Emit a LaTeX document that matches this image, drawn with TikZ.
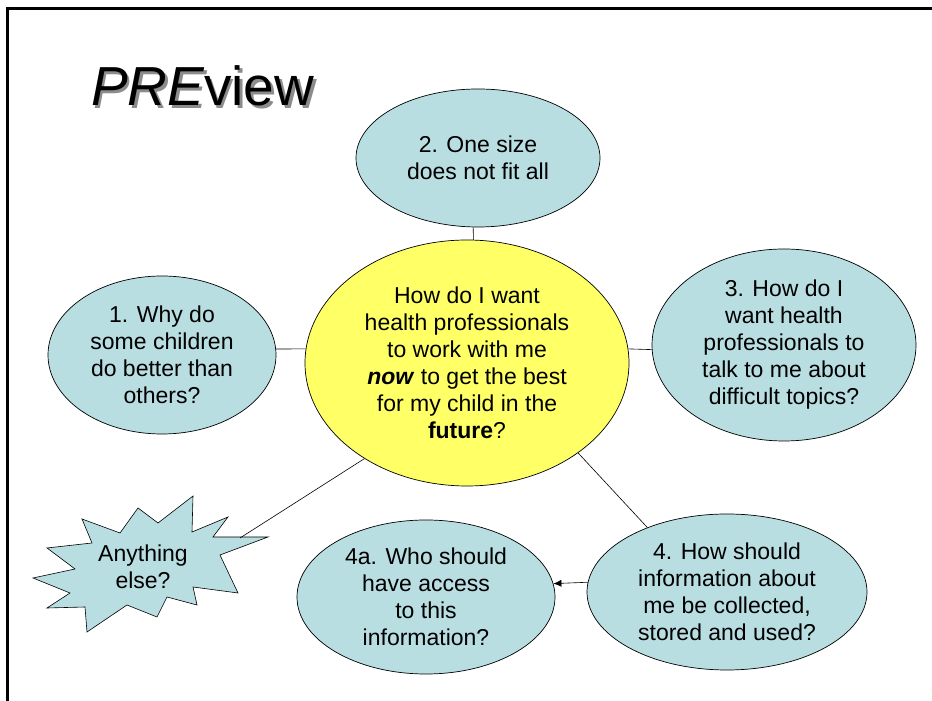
\documentclass[tikz,border=0pt]{standalone}
\usepackage{fontspec}
\setmainfont{Liberation Sans}
\usepackage{tikz}
\usetikzlibrary{shapes.geometric,arrows.meta,positioning}
\definecolor{bubblefill}{RGB}{185,222,226}
\definecolor{centrefill}{RGB}{255,255,102}

\begin{document}
\begin{tikzpicture}[
              x=1pt, y=1pt,
              every node/.style={font=\fontsize{23}{27}\selectfont, align=center, inner sep=0pt},
              bubble/.style={ellipse, draw, line width=0.7pt, fill=bubblefill},
              centre/.style={ellipse, draw, line width=0.7pt, fill=centrefill},
              link/.style={draw, line width=0.6pt}
            ]
            \useasboundingbox (0,0) rectangle (932,701);

            % Frame
            \draw[line width=3pt] (7,0) -- (7,692) -- (932,692);

            % Title (grey shadow behind)
            \node[anchor=base west, font=\fontsize{55}{62}\selectfont] (title) at (91,595)
              {\makebox[0pt][l]{\hspace{2.5pt}\raisebox{-2.5pt}{\color{black!45}\itshape PRE\upshape view}}\itshape PRE\upshape view};

            % Nodes
            \node[centre, minimum width=324, minimum height=246] (c) at (467,338)
              {How do I want\\health professionals\\to work with me\\\textbf{\textit{now}} to get the best\\for my child in the\\\textbf{future}?};
            \node[bubble, minimum width=244, minimum height=138] (q2) at (478,543) {2. One size\\does not fit all};
            \node[bubble, minimum width=228, minimum height=158] (q1) at (162,346) {1. Why do\\some children\\do better than\\others?};
            \node[bubble, minimum width=264, minimum height=192] (q3) at (784,356) {3. How do I\\want health\\professionals to\\talk to me about\\difficult topics?};
            \node[bubble, minimum width=280, minimum height=156] (q4) at (727,109) {4. How should\\information about\\me be collected,\\stored and used?};
            \node[bubble, minimum width=258, minimum height=154] (q4a) at (426,104) {4a. Who should\\have access\\to this\\information?};

            % Starburst
            \filldraw[line width=0.6pt, fill=bubblefill]
              (33,123) -- (75,132) -- (47,153) -- (92,158) -- (82,182) -- (120,168)
              -- (138,193) -- (158,178) -- (193,205) -- (192,169) -- (228,184)
              -- (213,164) -- (268,164) -- (220,146) -- (238,108) -- (193,114)
              -- (197,96) -- (167,104) -- (157,84) -- (127,96) -- (87,69)
              -- (85,94) -- (47,93) -- (70,108) -- cycle;
            \node (else) at (143,134) {Anything\\else?};
            \coordinate (burst) at (240,163);

            % Edges
            \draw[link] (q2.266) -- (c.87);
            \draw[link] (q1.3) -- (c.175);
            \draw[link] (c.5) -- (q3.182);
            \draw[link] (c.-39) -- (q4.141);
            \draw[link] (c.223) -- (burst);
            \draw[link, -{Latex[length=8pt, width=7pt]}] (q4.176) -- (q4a.6);

            \end{tikzpicture}
\end{document}
